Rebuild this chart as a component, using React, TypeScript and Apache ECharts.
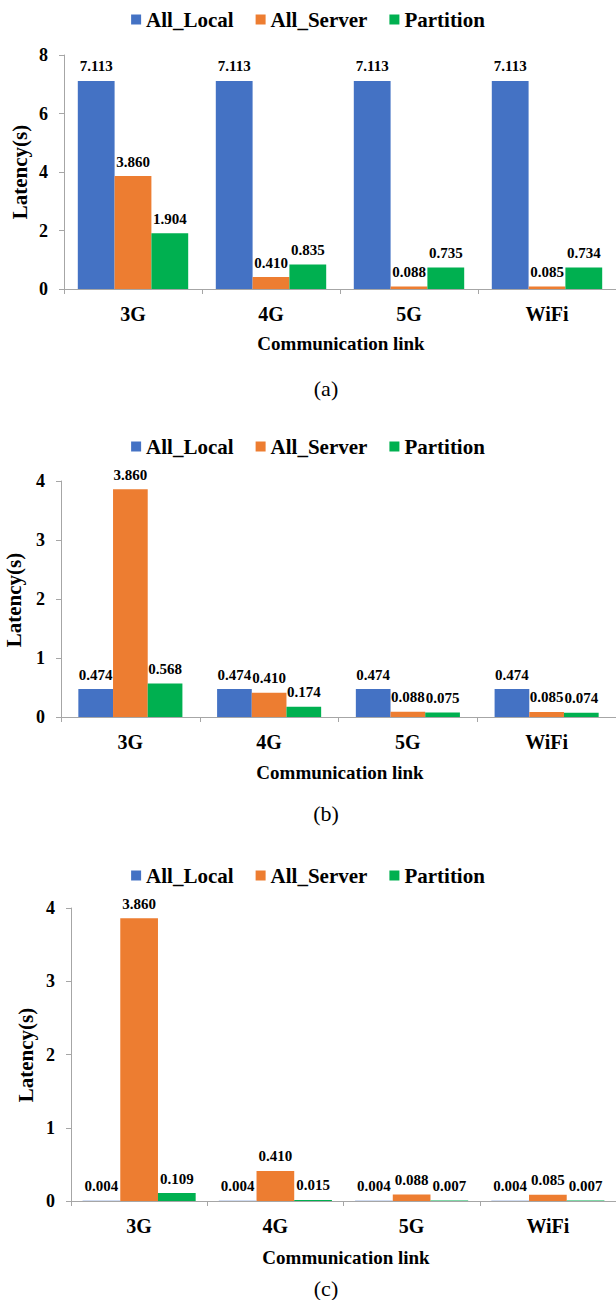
import React, { useEffect, useRef } from "react";
import * as echarts from "echarts";

const categories = ["3G", "4G", "5G", "WiFi"];
const seriesNames = ["All_Local", "All_Server", "Partition"];
const colors = ["#4472C4", "#ED7D31", "#00B050"];

// (a)
const aLocal = [7.113, 7.113, 7.113, 7.113];
const aServer = [3.86, 0.41, 0.088, 0.085];
const aPartition = [1.904, 0.835, 0.735, 0.734];
// (b)
const bLocal = [0.474, 0.474, 0.474, 0.474];
const bServer = [3.86, 0.41, 0.088, 0.085];
const bPartition = [0.568, 0.174, 0.075, 0.074];
// (c)
const cLocal = [0.004, 0.004, 0.004, 0.004];
const cServer = [3.86, 0.41, 0.088, 0.085];
const cPartition = [0.109, 0.015, 0.007, 0.007];

const yMax = [8, 4, 4];
const yInterval = [2, 1, 1];
const captions = ["(a)", "(b)", "(c)"];
const xTitle = "Communication link";
const yTitle = "Latency(s)";

const FONT = "Liberation Serif";
const AXIS_COLOR = "#A6A6A6";

export default function App() {
  const ref = useRef<HTMLDivElement>(null);
  useEffect(() => {
    if (!ref.current) return;
    const chart = echarts.init(ref.current, undefined, { renderer: "svg" });

    const panels = [
      { data: [aLocal, aServer, aPartition], grid: { left: 64, top: 55, width: 553, height: 234 }, gap: "20%", legendTop: 4, yName: { x: 20, y: 172 }, xName: { x: 341, y: 343 }, cap: { x: 326, y: 388 } },
      { data: [bLocal, bServer, bPartition], grid: { left: 61, top: 481, width: 557, height: 236 }, gap: "25%", legendTop: 431, yName: { x: 14, y: 600 }, xName: { x: 340, y: 772 }, cap: { x: 326, y: 813 } },
      { data: [cLocal, cServer, cPartition], grid: { left: 71, top: 908, width: 550, height: 293 }, gap: "17%", legendTop: 860, yName: { x: 26, y: 1055 }, xName: { x: 346, y: 1257 }, cap: { x: 326, y: 1288 } },
    ];

    const grids = panels.map((p) => ({ ...p.grid, containLabel: false }));
    const xAxes = panels.map((p, i) => ({
      type: "category",
      gridIndex: i,
      data: categories,
      axisLine: { lineStyle: { color: AXIS_COLOR, width: 1 } },
      axisTick: { show: true, length: 5, lineStyle: { color: AXIS_COLOR } },
      axisLabel: { color: "#000", fontFamily: FONT, fontWeight: "bold", fontSize: 20, margin: 15 },
    }));
    const yAxes = panels.map((p, i) => ({
      type: "value",
      gridIndex: i,
      min: 0,
      max: yMax[i],
      interval: yInterval[i],
      splitLine: { show: false },
      axisLine: { show: true, lineStyle: { color: AXIS_COLOR, width: 1 } },
      axisTick: { show: true, length: 5, lineStyle: { color: AXIS_COLOR } },
      axisLabel: { color: "#000", fontFamily: FONT, fontWeight: "bold", fontSize: 18, margin: 16 },
    }));
    const legends = panels.map((p) => ({
      top: p.legendTop,
      left: "center",
      data: seriesNames,
      icon: "rect",
      itemWidth: 10,
      itemHeight: 10,
      itemGap: 22,
      selectedMode: false,
      textStyle: { color: "#000", fontFamily: FONT, fontWeight: "bold", fontSize: 21 },
    }));
    const series: any[] = [];
    panels.forEach((p, i) => {
      p.data.forEach((vals, k) => {
        series.push({
          type: "bar",
          name: seriesNames[k],
          xAxisIndex: i,
          yAxisIndex: i,
          data: vals,
          barGap: "0%",
          barCategoryGap: p.gap,
          itemStyle: { color: colors[k] },
          label: {
            show: true,
            position: "top",
            distance: 7,
            color: "#000",
            fontFamily: FONT,
            fontWeight: "bold",
            fontSize: 15,
            formatter: (d: any) => Number(d.value).toFixed(3),
          },
        });
      });
    });

    const graphic: any[] = [];
    panels.forEach((p, i) => {
      graphic.push({
        type: "text",
        x: p.yName.x,
        y: p.yName.y,
        rotation: Math.PI / 2,
        style: { text: yTitle, fill: "#000", fontFamily: FONT, fontWeight: "bold", fontSize: 21, textAlign: "center", textVerticalAlign: "middle" },
      });
      graphic.push({
        type: "text",
        x: p.xName.x,
        y: p.xName.y,
        style: { text: xTitle, fill: "#000", fontFamily: FONT, fontWeight: "bold", fontSize: 19, textAlign: "center", textVerticalAlign: "middle" },
      });
      graphic.push({
        type: "text",
        x: p.cap.x,
        y: p.cap.y,
        style: { text: captions[i], fill: "#000", fontFamily: FONT, fontSize: 22, textAlign: "center", textVerticalAlign: "middle" },
      });
    });

    chart.setOption({
      animation: false,
      backgroundColor: "#fff",
      grid: grids,
      xAxis: xAxes,
      yAxis: yAxes,
      legend: legends,
      series,
      graphic,
    });
    return () => chart.dispose();
  }, []);
  return (
    <div
      ref={ref}
      style={{ position: "absolute", left: 0, top: 0, width: 616, height: 1300, background: "#fff" }}
    />
  );
}
